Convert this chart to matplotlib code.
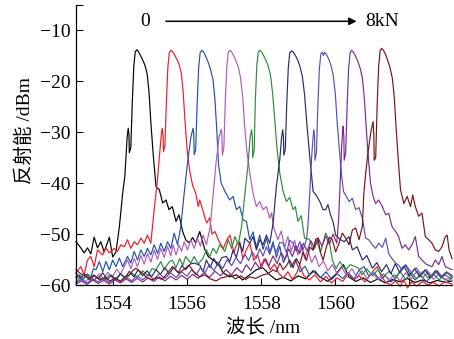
import matplotlib
matplotlib.use("Agg")
import matplotlib.pyplot as plt

# reflection spectra of the FBG under load, 0 kN ... 8 kN  (wavelength nm, power dBm)
spec_0kN = [(1553.00, -51.5), (1553.13, -52.7), (1553.22, -53.7), (1553.31, -52.7), (1553.40, -53.9),
            (1553.49, -50.6), (1553.58, -52.7), (1553.67, -51.5), (1553.76, -53.5), (1553.90, -50.6),
            (1553.99, -54.5), (1554.08, -53.5), (1554.17, -48.6), (1554.26, -42.0), (1554.32, -38.5),
            (1554.38, -31.0), (1554.41, -29.2), (1554.43, -30.5), (1554.44, -34.0), (1554.48, -33.0),
            (1554.52, -24.0), (1554.56, -17.0), (1554.60, -14.2), (1554.64, -13.8), (1554.68, -14.1),
            (1554.74, -14.9), (1554.80, -15.8), (1554.86, -16.8), (1554.92, -18.5), (1554.97, -22.0),
            (1555.02, -28.0), (1555.08, -34.0), (1555.16, -40.7), (1555.25, -41.3), (1555.34, -43.9),
            (1555.43, -43.3), (1555.51, -45.2), (1555.60, -44.6), (1555.70, -47.5), (1555.78, -46.2),
            (1555.88, -49.5), (1555.96, -51.1), (1556.05, -51.7), (1556.15, -50.7), (1556.23, -51.7),
            (1556.34, -49.5), (1556.48, -53.1), (1556.57, -54.4), (1556.70, -55.1), (1556.83, -55.7),
            (1556.97, -57.6), (1557.15, -58.4), (1557.33, -58.0), (1557.50, -59.0), (1557.69, -58.0),
            (1557.87, -57.0), (1558.04, -56.6), (1558.23, -58.0), (1558.41, -59.0), (1558.60, -58.5),
            (1558.80, -59.2), (1559.00, -58.2), (1559.20, -58.8), (1559.40, -57.2), (1559.60, -58.5),
            (1559.80, -59.3), (1560.00, -58.0), (1560.22, -56.0), (1560.36, -58.4), (1560.55, -59.3),
            (1560.75, -58.6), (1560.95, -59.5), (1561.15, -58.8), (1561.35, -59.6), (1561.55, -58.9),
            (1561.75, -59.4), (1561.95, -58.7), (1562.15, -59.5), (1562.35, -59.0), (1562.55, -59.6),
            (1562.75, -59.1), (1563.00, -59.5), (1563.15, -59.2)]

spec_1kN = [(1553.00, -57.6), (1553.13, -56.4), (1553.22, -58.0), (1553.31, -55.1), (1553.40, -54.4),
            (1553.49, -56.4), (1553.58, -53.1), (1553.72, -54.1), (1553.81, -52.7), (1553.90, -53.7),
            (1554.03, -52.8), (1554.12, -53.4), (1554.21, -52.1), (1554.30, -52.5), (1554.39, -51.1),
            (1554.48, -52.8), (1554.57, -51.5), (1554.66, -52.1), (1554.75, -50.8), (1554.84, -51.8),
            (1554.93, -50.2), (1555.02, -51.8), (1555.11, -45.2), (1555.20, -39.3), (1555.26, -34.0),
            (1555.31, -30.0), (1555.33, -29.3), (1555.35, -30.6), (1555.36, -33.8), (1555.40, -32.6),
            (1555.44, -24.0), (1555.48, -17.2), (1555.52, -14.3), (1555.56, -13.9), (1555.60, -14.1),
            (1555.66, -14.8), (1555.72, -15.6), (1555.78, -16.6), (1555.84, -18.3), (1555.89, -21.8),
            (1555.94, -27.5), (1556.00, -33.5), (1556.07, -37.6), (1556.15, -40.5), (1556.23, -41.9),
            (1556.30, -44.6), (1556.34, -43.3), (1556.42, -45.2), (1556.47, -46.6), (1556.53, -47.8),
            (1556.61, -46.8), (1556.67, -50.0), (1556.75, -49.5), (1556.88, -51.7), (1556.98, -52.8),
            (1557.08, -51.0), (1557.16, -50.2), (1557.26, -53.6), (1557.34, -52.0), (1557.42, -51.5),
            (1557.50, -54.8), (1557.58, -53.4), (1557.69, -51.8), (1557.80, -55.2), (1557.90, -54.0),
            (1558.00, -56.5), (1558.12, -54.8), (1558.24, -57.0), (1558.36, -55.9), (1558.48, -57.8),
            (1558.60, -58.6), (1558.72, -57.4), (1558.84, -58.9), (1558.96, -57.6), (1559.04, -56.1),
            (1559.15, -58.2), (1559.30, -59.0), (1559.45, -58.0), (1559.60, -59.4), (1559.75, -58.3),
            (1559.90, -59.6), (1560.05, -58.6), (1560.20, -59.3), (1560.35, -57.8), (1560.50, -59.0),
            (1560.65, -58.2), (1560.80, -59.4), (1560.95, -58.0), (1561.05, -57.0), (1561.13, -56.4),
            (1561.22, -58.0), (1561.35, -59.4), (1561.50, -60.0), (1561.62, -59.2), (1561.75, -60.3),
            (1561.85, -59.0), (1561.95, -60.6), (1562.05, -59.4), (1562.20, -60.2), (1562.35, -59.3),
            (1562.50, -60.0), (1562.65, -59.5), (1562.80, -60.2), (1562.95, -59.4), (1563.15, -59.8)]

spec_2kN = [(1553.00, -58.6), (1553.10, -58.0), (1553.20, -58.9), (1553.30, -57.8), (1553.40, -58.4),
            (1553.47, -56.8), (1553.54, -57.0), (1553.63, -55.4), (1553.72, -57.4), (1553.81, -55.4),
            (1553.90, -57.0), (1553.99, -55.1), (1554.08, -56.4), (1554.17, -54.7), (1554.26, -56.4),
            (1554.39, -54.4), (1554.48, -55.7), (1554.57, -53.4), (1554.66, -55.1), (1554.75, -53.1),
            (1554.84, -54.4), (1554.93, -52.8), (1555.02, -54.1), (1555.11, -52.1), (1555.20, -53.8),
            (1555.29, -51.8), (1555.38, -53.4), (1555.47, -51.5), (1555.56, -52.8), (1555.65, -49.8),
            (1555.74, -52.1), (1555.83, -48.5), (1555.92, -42.0), (1556.01, -36.0), (1556.10, -31.0),
            (1556.16, -29.2), (1556.18, -30.5), (1556.19, -34.4), (1556.23, -33.5), (1556.27, -24.5),
            (1556.31, -17.5), (1556.35, -14.4), (1556.40, -13.9), (1556.45, -14.3), (1556.51, -15.2),
            (1556.57, -16.3), (1556.63, -17.6), (1556.70, -19.7), (1556.75, -23.5), (1556.80, -29.5),
            (1556.85, -36.5), (1556.92, -40.0), (1557.02, -41.6), (1557.15, -43.3), (1557.24, -42.6),
            (1557.33, -45.2), (1557.42, -44.6), (1557.51, -47.2), (1557.60, -47.5), (1557.69, -51.1),
            (1557.78, -49.6), (1557.87, -52.6), (1557.96, -50.2), (1558.05, -53.0), (1558.14, -50.8),
            (1558.23, -53.5), (1558.32, -51.5), (1558.41, -54.6), (1558.50, -52.4), (1558.60, -55.6),
            (1558.70, -53.8), (1558.80, -56.5), (1558.92, -55.0), (1559.05, -57.4), (1559.18, -56.3),
            (1559.30, -58.0), (1559.45, -57.2), (1559.60, -58.6), (1559.75, -57.4), (1559.90, -58.9),
            (1560.05, -57.8), (1560.20, -58.7), (1560.35, -57.6), (1560.50, -58.8), (1560.65, -57.0),
            (1560.78, -56.4), (1560.90, -58.2), (1561.05, -57.6), (1561.20, -59.0), (1561.35, -58.2),
            (1561.50, -59.4), (1561.65, -58.5), (1561.80, -56.6), (1561.90, -56.0), (1562.00, -57.6),
            (1562.15, -59.0), (1562.30, -58.0), (1562.45, -59.3), (1562.60, -58.4), (1562.75, -57.2),
            (1562.90, -58.6), (1563.05, -59.2), (1563.15, -58.6)]

spec_3kN = [(1553.00, -59.3), (1553.12, -58.6), (1553.25, -59.4), (1553.38, -58.3), (1553.50, -59.0),
            (1553.62, -57.8), (1553.74, -58.8), (1553.86, -57.5), (1553.98, -58.4), (1554.10, -56.9),
            (1554.20, -57.9), (1554.30, -56.4), (1554.39, -55.1), (1554.48, -56.8), (1554.57, -54.8),
            (1554.66, -56.4), (1554.75, -54.2), (1554.84, -55.9), (1554.93, -53.8), (1555.02, -55.5),
            (1555.11, -53.2), (1555.20, -55.0), (1555.29, -52.8), (1555.38, -54.6), (1555.47, -52.4),
            (1555.56, -54.3), (1555.62, -52.1), (1555.70, -54.1), (1555.78, -52.1), (1555.85, -53.4),
            (1555.92, -51.5), (1556.01, -53.1), (1556.10, -51.1), (1556.19, -52.8), (1556.28, -50.8),
            (1556.36, -52.4), (1556.43, -50.2), (1556.52, -52.1), (1556.62, -48.6), (1556.70, -42.5),
            (1556.78, -36.0), (1556.86, -31.0), (1556.92, -29.4), (1556.94, -30.8), (1556.95, -34.5),
            (1556.99, -33.2), (1557.03, -24.0), (1557.07, -17.2), (1557.11, -14.3), (1557.15, -13.9),
            (1557.20, -14.2), (1557.26, -15.0), (1557.32, -16.0), (1557.38, -17.2), (1557.44, -19.2),
            (1557.50, -23.0), (1557.55, -28.5), (1557.61, -33.5), (1557.69, -38.0), (1557.78, -42.0),
            (1557.87, -44.6), (1557.96, -43.6), (1558.05, -45.2), (1558.14, -44.6), (1558.23, -46.9),
            (1558.28, -45.8), (1558.33, -48.5), (1558.45, -51.1), (1558.54, -49.4), (1558.63, -52.6),
            (1558.72, -50.5), (1558.81, -53.4), (1558.90, -51.2), (1558.99, -54.1), (1559.08, -52.0),
            (1559.17, -54.8), (1559.26, -53.0), (1559.36, -55.6), (1559.46, -54.2), (1559.56, -56.4),
            (1559.68, -55.3), (1559.80, -57.2), (1559.92, -56.0), (1560.05, -57.8), (1560.18, -56.5),
            (1560.30, -58.2), (1560.45, -56.8), (1560.58, -58.5), (1560.72, -57.2), (1560.86, -58.8),
            (1561.00, -57.6), (1561.15, -58.9), (1561.30, -57.8), (1561.45, -59.0), (1561.60, -58.0),
            (1561.75, -59.2), (1561.90, -57.6), (1562.05, -58.8), (1562.20, -57.3), (1562.35, -58.6),
            (1562.50, -57.5), (1562.65, -58.9), (1562.80, -57.8), (1562.95, -59.0), (1563.15, -58.4)]

spec_4kN = [(1553.00, -58.3), (1553.15, -59.0), (1553.30, -58.1), (1553.45, -59.2), (1553.60, -58.4),
            (1553.75, -59.1), (1553.90, -58.0), (1554.05, -58.9), (1554.20, -57.8), (1554.35, -58.7),
            (1554.50, -57.6), (1554.65, -58.5), (1554.80, -57.2), (1554.95, -58.2), (1555.05, -56.8),
            (1555.16, -57.0), (1555.29, -55.4), (1555.38, -57.0), (1555.50, -55.6), (1555.60, -55.1),
            (1555.70, -56.6), (1555.80, -54.8), (1555.88, -56.2), (1555.96, -54.4), (1556.10, -55.7),
            (1556.19, -54.4), (1556.30, -55.9), (1556.43, -54.7), (1556.52, -53.1), (1556.61, -54.4),
            (1556.70, -52.8), (1556.79, -53.8), (1556.88, -52.1), (1557.02, -53.4), (1557.11, -51.1),
            (1557.20, -52.8), (1557.29, -50.5), (1557.38, -52.1), (1557.47, -48.5), (1557.56, -42.0),
            (1557.64, -36.7), (1557.70, -31.0), (1557.74, -29.5), (1557.76, -30.8), (1557.77, -35.0),
            (1557.81, -33.5), (1557.84, -24.0), (1557.88, -17.0), (1557.92, -14.2), (1557.96, -13.9),
            (1558.01, -14.2), (1558.07, -15.0), (1558.13, -15.9), (1558.19, -17.0), (1558.25, -18.8),
            (1558.31, -22.5), (1558.37, -28.0), (1558.43, -33.5), (1558.50, -38.0), (1558.59, -41.6),
            (1558.68, -43.6), (1558.77, -42.8), (1558.86, -45.2), (1558.92, -44.6), (1558.99, -47.5),
            (1559.08, -46.4), (1559.17, -50.8), (1559.30, -51.0), (1559.40, -53.2), (1559.50, -51.2),
            (1559.60, -53.6), (1559.74, -49.8), (1559.83, -51.1), (1559.92, -55.1), (1560.02, -56.8),
            (1560.12, -55.4), (1560.28, -57.0), (1560.40, -56.0), (1560.55, -56.4), (1560.62, -56.7),
            (1560.72, -58.0), (1560.85, -56.8), (1561.00, -58.2), (1561.15, -57.0), (1561.30, -58.4),
            (1561.45, -57.3), (1561.60, -58.6), (1561.75, -57.4), (1561.90, -58.9), (1562.05, -57.6),
            (1562.20, -58.8), (1562.35, -57.4), (1562.50, -58.6), (1562.65, -57.8), (1562.80, -59.0),
            (1562.95, -58.0), (1563.15, -58.8)]

spec_5kN = [(1553.00, -57.7), (1553.12, -58.6), (1553.24, -57.9), (1553.36, -59.0), (1553.48, -58.0),
            (1553.60, -58.8), (1553.72, -57.6), (1553.84, -58.9), (1553.96, -58.1), (1554.08, -59.1),
            (1554.20, -57.8), (1554.32, -58.6), (1554.44, -57.3), (1554.56, -58.4), (1554.68, -57.0),
            (1554.80, -58.2), (1554.92, -57.2), (1555.04, -58.4), (1555.16, -57.0), (1555.28, -57.9),
            (1555.40, -56.6), (1555.52, -57.8), (1555.64, -56.5), (1555.76, -57.6), (1555.86, -56.2),
            (1555.96, -57.0), (1556.08, -55.9), (1556.19, -55.7), (1556.34, -56.1), (1556.43, -57.4),
            (1556.52, -55.1), (1556.62, -56.6), (1556.72, -54.8), (1556.82, -56.2), (1556.94, -54.6),
            (1557.06, -54.4), (1557.15, -55.4), (1557.24, -53.2), (1557.33, -54.6), (1557.42, -51.8),
            (1557.50, -53.4), (1557.56, -50.8), (1557.69, -51.8), (1557.78, -50.5), (1557.87, -53.1),
            (1557.96, -51.1), (1558.05, -52.1), (1558.14, -50.2), (1558.23, -51.8), (1558.32, -47.9),
            (1558.41, -40.6), (1558.50, -35.4), (1558.55, -31.0), (1558.58, -29.5), (1558.60, -30.8),
            (1558.61, -34.5), (1558.65, -33.4), (1558.69, -24.2), (1558.73, -17.4), (1558.77, -14.4),
            (1558.82, -14.0), (1558.87, -14.3), (1558.93, -15.0), (1558.99, -15.9), (1559.05, -17.2),
            (1559.11, -19.0), (1559.17, -22.6), (1559.23, -28.2), (1559.30, -34.0), (1559.36, -38.5),
            (1559.40, -41.6), (1559.49, -42.4), (1559.58, -43.6), (1559.67, -45.2), (1559.74, -45.2),
            (1559.80, -44.2), (1559.87, -46.2), (1559.94, -47.6), (1560.01, -50.2), (1560.14, -51.1),
            (1560.24, -51.5), (1560.37, -50.5), (1560.46, -53.1), (1560.59, -52.5), (1560.73, -55.1),
            (1560.85, -54.2), (1561.00, -56.7), (1561.12, -55.6), (1561.25, -57.4), (1561.38, -56.0),
            (1561.50, -57.8), (1561.62, -55.8), (1561.74, -57.6), (1561.86, -56.4), (1562.00, -58.2),
            (1562.14, -56.8), (1562.28, -58.4), (1562.42, -57.0), (1562.56, -58.6), (1562.70, -57.2),
            (1562.85, -58.5), (1563.00, -57.4), (1563.15, -58.2)]

spec_6kN = [(1553.00, -59.5), (1553.15, -58.9), (1553.30, -59.6), (1553.45, -58.8), (1553.60, -59.4),
            (1553.75, -58.7), (1553.90, -59.5), (1554.05, -58.6), (1554.20, -59.3), (1554.35, -58.5),
            (1554.50, -59.2), (1554.65, -58.2), (1554.80, -59.0), (1554.95, -58.0), (1555.10, -58.9),
            (1555.25, -57.8), (1555.40, -58.7), (1555.55, -57.6), (1555.70, -58.5), (1555.85, -57.4),
            (1556.00, -58.3), (1556.12, -57.0), (1556.24, -58.0), (1556.36, -56.6), (1556.48, -57.6),
            (1556.60, -56.0), (1556.72, -57.2), (1556.84, -55.6), (1556.96, -56.8), (1557.08, -55.0),
            (1557.20, -56.2), (1557.32, -54.6), (1557.44, -55.8), (1557.56, -54.0), (1557.66, -55.2),
            (1557.76, -53.5), (1557.86, -54.8), (1557.96, -52.9), (1558.05, -54.3), (1558.14, -52.5),
            (1558.23, -54.0), (1558.32, -52.0), (1558.41, -53.6), (1558.50, -51.6), (1558.59, -51.8),
            (1558.68, -53.6), (1558.77, -51.2), (1558.86, -51.8), (1558.95, -53.4), (1559.04, -51.5),
            (1559.13, -53.1), (1559.22, -51.1), (1559.26, -48.5), (1559.31, -42.0), (1559.36, -35.0),
            (1559.40, -31.0), (1559.42, -29.5), (1559.44, -31.0), (1559.45, -35.5), (1559.49, -34.0),
            (1559.53, -24.5), (1559.57, -17.5), (1559.61, -14.6), (1559.65, -14.3), (1559.68, -14.9),
            (1559.71, -14.3), (1559.76, -14.7), (1559.82, -15.6), (1559.88, -16.8), (1559.94, -18.6),
            (1560.00, -22.4), (1560.05, -28.0), (1560.11, -33.5), (1560.17, -38.5), (1560.22, -41.6),
            (1560.30, -42.6), (1560.37, -43.6), (1560.46, -43.0), (1560.55, -45.2), (1560.64, -44.8),
            (1560.73, -46.9), (1560.82, -50.8), (1560.90, -51.1), (1561.00, -52.1), (1561.09, -52.8),
            (1561.17, -51.8), (1561.27, -52.6), (1561.36, -50.8), (1561.44, -53.8), (1561.53, -54.8),
            (1561.63, -55.7), (1561.72, -56.2), (1561.80, -57.0), (1561.92, -56.2), (1562.05, -57.6),
            (1562.18, -56.6), (1562.32, -58.0), (1562.46, -57.0), (1562.60, -58.3), (1562.74, -57.2),
            (1562.88, -58.5), (1563.02, -57.6), (1563.15, -58.4)]

spec_7kN = [(1553.00, -59.8), (1553.15, -59.2), (1553.30, -59.9), (1553.45, -59.0), (1553.60, -59.7),
            (1553.75, -59.1), (1553.90, -59.8), (1554.05, -59.0), (1554.20, -59.6), (1554.35, -58.8),
            (1554.50, -59.5), (1554.65, -58.7), (1554.80, -59.4), (1554.95, -58.6), (1555.10, -59.3),
            (1555.25, -58.4), (1555.40, -59.2), (1555.55, -58.3), (1555.70, -59.0), (1555.85, -58.1),
            (1556.00, -58.9), (1556.15, -57.9), (1556.30, -58.7), (1556.45, -57.6), (1556.60, -58.5),
            (1556.75, -57.3), (1556.90, -58.2), (1557.05, -57.0), (1557.20, -58.0), (1557.34, -56.6),
            (1557.48, -57.6), (1557.60, -56.0), (1557.72, -57.2), (1557.84, -55.5), (1557.96, -56.8),
            (1558.08, -54.9), (1558.20, -56.3), (1558.32, -54.3), (1558.43, -55.8), (1558.54, -53.6),
            (1558.64, -55.0), (1558.74, -52.9), (1558.84, -54.4), (1558.94, -52.3), (1559.04, -53.8),
            (1559.14, -51.8), (1559.24, -53.3), (1559.34, -51.3), (1559.44, -52.8), (1559.54, -50.8),
            (1559.64, -52.4), (1559.74, -50.4), (1559.84, -52.0), (1559.94, -50.0), (1560.04, -51.8),
            (1560.09, -47.0), (1560.13, -40.0), (1560.17, -33.0), (1560.20, -29.5), (1560.21, -28.8),
            (1560.23, -30.8), (1560.24, -35.5), (1560.28, -34.0), (1560.32, -24.5), (1560.36, -17.4),
            (1560.40, -14.4), (1560.44, -13.9), (1560.49, -14.3), (1560.55, -15.1), (1560.61, -16.1),
            (1560.67, -17.4), (1560.73, -19.3), (1560.78, -23.0), (1560.83, -28.5), (1560.88, -34.0),
            (1560.95, -40.0), (1561.02, -42.6), (1561.09, -44.0), (1561.17, -43.3), (1561.27, -44.6),
            (1561.36, -46.2), (1561.44, -45.9), (1561.53, -48.5), (1561.63, -49.5), (1561.71, -50.5),
            (1561.80, -52.8), (1561.89, -52.1), (1561.98, -53.1), (1562.07, -52.1), (1562.16, -50.5),
            (1562.25, -54.4), (1562.34, -55.1), (1562.45, -55.9), (1562.61, -56.4), (1562.70, -55.1),
            (1562.79, -56.0), (1562.88, -54.4), (1562.97, -56.4), (1563.15, -57.0)]

spec_8kN = [(1553.00, -57.0), (1553.09, -57.6), (1553.18, -58.0), (1553.27, -58.4), (1553.36, -58.7),
            (1553.50, -58.2), (1553.64, -59.0), (1553.78, -58.5), (1553.92, -59.2), (1554.06, -58.6),
            (1554.20, -59.3), (1554.32, -58.4), (1554.44, -58.0), (1554.53, -57.2), (1554.62, -56.7),
            (1554.71, -57.3), (1554.80, -57.7), (1554.92, -58.6), (1555.05, -59.0), (1555.18, -58.5),
            (1555.32, -58.9), (1555.46, -57.8), (1555.60, -56.4), (1555.70, -57.1), (1555.78, -57.7),
            (1555.90, -57.0), (1556.05, -56.1), (1556.18, -57.4), (1556.34, -58.4), (1556.48, -58.0),
            (1556.62, -58.8), (1556.78, -59.2), (1556.92, -58.6), (1557.05, -58.4), (1557.15, -58.0),
            (1557.30, -58.8), (1557.45, -58.2), (1557.58, -58.9), (1557.69, -58.4), (1557.85, -58.7),
            (1558.05, -58.0), (1558.18, -57.8), (1558.32, -57.0), (1558.41, -57.4), (1558.50, -55.7),
            (1558.59, -57.0), (1558.68, -56.2), (1558.77, -55.1), (1558.86, -56.6), (1558.95, -54.8),
            (1559.04, -56.0), (1559.13, -53.5), (1559.22, -55.2), (1559.31, -52.6), (1559.40, -53.1),
            (1559.47, -51.0), (1559.53, -50.8), (1559.60, -53.6), (1559.67, -55.1), (1559.76, -52.5),
            (1559.84, -50.6), (1559.92, -51.1), (1560.01, -53.5), (1560.10, -51.8), (1560.19, -49.8),
            (1560.28, -50.8), (1560.37, -52.1), (1560.46, -49.2), (1560.55, -48.8), (1560.64, -51.1),
            (1560.73, -48.5), (1560.77, -42.0), (1560.82, -38.0), (1560.90, -33.0), (1560.97, -29.5),
            (1561.02, -27.9), (1561.04, -30.5), (1561.05, -35.5), (1561.09, -35.0), (1561.13, -24.5),
            (1561.17, -17.0), (1561.21, -14.0), (1561.25, -13.5), (1561.30, -13.9), (1561.36, -14.8),
            (1561.42, -16.0), (1561.48, -17.4), (1561.54, -19.4), (1561.59, -23.0), (1561.64, -29.0),
            (1561.70, -35.4), (1561.76, -41.3), (1561.85, -44.0), (1561.94, -42.6), (1562.03, -44.6),
            (1562.09, -42.3), (1562.16, -44.6), (1562.25, -46.5), (1562.34, -45.9), (1562.43, -50.5),
            (1562.52, -51.1), (1562.61, -51.8), (1562.70, -53.1), (1562.79, -53.4), (1562.88, -52.5),
            (1562.97, -50.5), (1563.02, -50.2), (1563.07, -53.1), (1563.15, -54.8)]

spectra = [spec_0kN, spec_1kN, spec_2kN, spec_3kN, spec_4kN, spec_5kN, spec_6kN, spec_7kN, spec_8kN]
colors = ['#000000', '#ee1c24', '#2152a8', '#b05cba', '#2e8b3b', '#272c68', '#5b4fb3', '#7d2a8e', '#7b1416']

x_ticks = [1554, 1556, 1558, 1560, 1562]
y_ticks = [-60, -50, -40, -30, -20, -10]

fonts = ['Liberation Serif', 'Noto Sans CJK SC']
plt.rcParams['font.family'] = fonts
plt.rcParams['axes.unicode_minus'] = True

fig = plt.figure(figsize=(4.54, 3.39), dpi=100)
ax = fig.add_axes([76/454, 54/339, 376/454, 280/339])

for spec, c in zip(spectra, colors):
    wl, pw = zip(*spec)
    ax.plot(wl, pw, color=c, lw=0.85, clip_on=False)

ax.set_xlim(1553.0, 1563.15)
ax.set_ylim(-60, -5)
ax.set_xticks(x_ticks)
ax.set_yticks(y_ticks)
ax.set_yticks([-5], minor=True)
ax.tick_params(axis='both', which='both', direction='in', labelsize=14, length=5, width=0.8, pad=4)
ax.tick_params(axis='x', pad=8)
for s in ['top', 'right']:
    ax.spines[s].set_visible(False)
for s in ['left', 'bottom']:
    ax.spines[s].set_linewidth(0.9)

# load arrow 0 -> 8kN
ax.annotate('', xy=(1560.65, -8.2), xytext=(1555.35, -8.2),
            arrowprops=dict(arrowstyle='-|>', color='black', lw=1.1, mutation_scale=11))
ax.text(1554.86, -8.2, '0', fontsize=14, ha='center', va='center')
ax.text(1560.82, -8.2, '8kN', fontsize=14, ha='left', va='center')

fig.text(25/454, 1 - 130/339, '反射能 /dBm', rotation=90, fontsize=14, ha='center', va='center')
fig.text(263/454, 1 - 328/339, '波长 /nm', fontsize=14, ha='center', va='center')

fig.savefig('out.png', dpi=100)
